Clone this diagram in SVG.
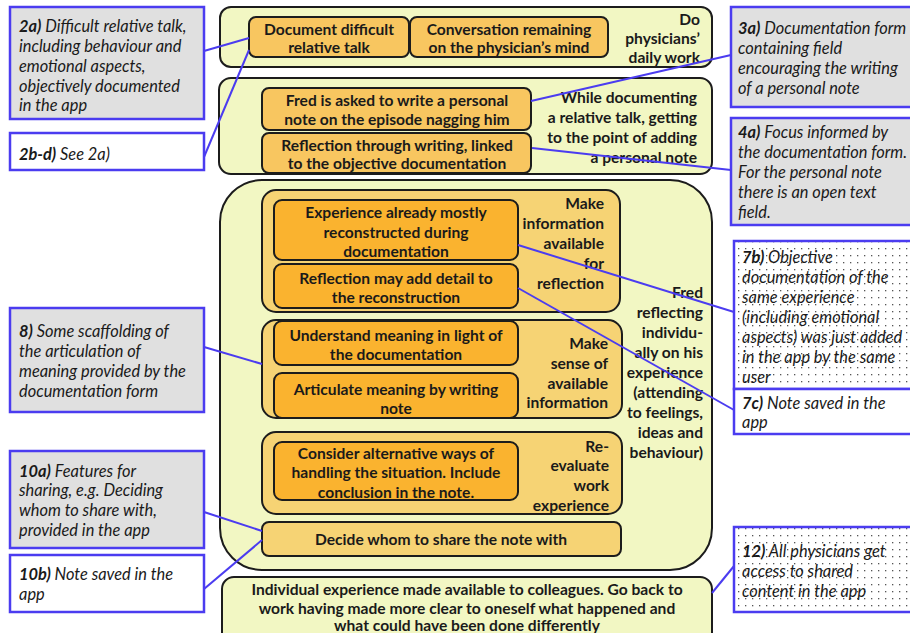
<svg xmlns="http://www.w3.org/2000/svg" width="910" height="633" viewBox="0 0 910 633">
<defs>
<pattern id="dots" width="7" height="7" patternUnits="userSpaceOnUse">
<rect width="7" height="7" fill="#ffffff"/>
<rect x="3" y="3" width="1.3" height="1.3" fill="#555555"/>
</pattern>
<style>
.cont{fill:#f2f7c3;stroke:#1c1c1c;stroke-width:2}
.sub{fill:#f6d374;stroke:#1c1c1c;stroke-width:2}
.box1{fill:#f8c660;stroke:#1c1c1c;stroke-width:2}
.box2{fill:#fab32f;stroke:#1c1c1c;stroke-width:2}
.ann{fill:#e0e0e0;stroke:#4b3cf0;stroke-width:2.5}
.annw{fill:#ffffff;stroke:#4b3cf0;stroke-width:2.5}
.annd{fill:url(#dots);stroke:#4b3cf0;stroke-width:2.5}
.t{font-family:Lato,"Liberation Sans",sans-serif;font-weight:bold;font-size:15.6px;fill:#1a1a1a}
.c{text-anchor:middle}
.r{text-anchor:end}
.i{font-family:Lato,"Liberation Sans",sans-serif;font-style:italic;font-size:16.4px;fill:#1a1a1a}
.b{font-weight:bold}
#connectors line{stroke:#4b3cf0;stroke-width:2}
</style>
</defs>
<rect width="910" height="633" fill="#ffffff"/>

<g id="containers">
<g id="daily-work">
<rect class="cont" x="220" y="7" width="492" height="60" rx="11"/>
<text class="t r" x="700" y="25">Do</text>
<text class="t r" x="700" y="44">physicians’</text>
<text class="t r" x="700" y="63">daily work</text>
</g>
<g id="while-documenting">
<rect class="cont" x="219" y="78" width="493" height="96" rx="12"/>
<text class="t r" x="697" y="103">While documenting</text>
<text class="t r" x="697" y="123">a relative talk, getting</text>
<text class="t r" x="697" y="143">to the point of adding</text>
<text class="t r" x="697" y="163">a personal note</text>
</g>
<g id="fred-reflecting">
<rect class="cont" x="220" y="180" width="492" height="390" rx="42"/>
<text class="t r" x="703" y="298">Fred</text>
<text class="t r" x="703" y="318">reflecting</text>
<text class="t r" x="703" y="338">individu-</text>
<text class="t r" x="703" y="358">ally on his</text>
<text class="t r" x="703" y="378">experience</text>
<text class="t r" x="703" y="398">(attending</text>
<text class="t r" x="703" y="418">to feelings,</text>
<text class="t r" x="703" y="438">ideas and</text>
<text class="t r" x="703" y="458">behaviour)</text>
</g>
<g id="make-info">
<rect class="sub" x="262" y="190" width="358" height="122" rx="14"/>
<text class="t r" x="604" y="209">Make</text>
<text class="t r" x="604" y="229">information</text>
<text class="t r" x="604" y="249">available</text>
<text class="t r" x="604" y="269">for</text>
<text class="t r" x="604" y="289">reflection</text>
</g>
<g id="make-sense">
<rect class="sub" x="262" y="320" width="360" height="98" rx="14"/>
<text class="t r" x="608" y="349">Make</text>
<text class="t r" x="608" y="369">sense of</text>
<text class="t r" x="608" y="389">available</text>
<text class="t r" x="608" y="408">information</text>
</g>
<g id="re-evaluate">
<rect class="sub" x="262" y="432" width="360" height="82" rx="14"/>
<text class="t r" x="609" y="452">Re-</text>
<text class="t r" x="609" y="471">evaluate</text>
<text class="t r" x="609" y="491">work</text>
<text class="t r" x="609" y="511">experience</text>
</g>
<g id="individual-experience">
<rect class="cont" x="222" y="577" width="490" height="70" rx="12"/>
<text class="t c" x="467" y="595">Individual experience made available to colleagues. Go back to</text>
<text class="t c" x="467" y="614">work having made more clear to oneself what happened and</text>
<text class="t c" x="467" y="631">what could have been done differently</text>
</g>
</g>

<g id="document-talk">
<rect class="box1" x="249" y="17" width="160" height="40" rx="7"/>
<text class="t c" x="329" y="35">Document difficult</text>
<text class="t c" x="329" y="53">relative talk</text>
</g>
<g id="conversation-remaining">
<rect class="box1" x="410" y="17" width="198" height="40" rx="7"/>
<text class="t c" x="509" y="35">Conversation remaining</text>
<text class="t c" x="509" y="53">on the physician’s mind</text>
</g>
<g id="fred-asked">
<rect class="box1" x="262" y="88" width="269" height="42" rx="7"/>
<text class="t c" x="397" y="106">Fred is asked to write a personal</text>
<text class="t c" x="397" y="125">note on the episode nagging him</text>
</g>
<g id="reflection-writing">
<rect class="box1" x="262" y="133" width="269" height="40" rx="7"/>
<text class="t c" x="397" y="151">Reflection through writing, linked</text>
<text class="t c" x="397" y="169">to the objective documentation</text>
</g>
<g id="experience-reconstructed">
<rect class="box2" x="274" y="200" width="244" height="60" rx="8"/>
<text class="t c" x="396" y="218">Experience already mostly</text>
<text class="t c" x="396" y="238">reconstructed during</text>
<text class="t c" x="396" y="257">documentation</text>
</g>
<g id="reflection-detail">
<rect class="box2" x="274" y="264" width="244" height="44" rx="8"/>
<text class="t c" x="396" y="284">Reflection may add detail to</text>
<text class="t c" x="396" y="303">the reconstruction</text>
</g>
<g id="understand-meaning">
<rect class="box2" x="274" y="321" width="244" height="44" rx="8"/>
<text class="t c" x="396" y="341">Understand meaning in light of</text>
<text class="t c" x="396" y="360">the documentation</text>
</g>
<g id="articulate-meaning">
<rect class="box2" x="274" y="373" width="244" height="45" rx="8"/>
<text class="t c" x="396" y="395">Articulate meaning by writing</text>
<text class="t c" x="396" y="414">note</text>
</g>
<g id="consider-alternatives">
<rect class="box2" x="274" y="442" width="244" height="58" rx="8"/>
<text class="t c" x="396" y="459">Consider alternative ways of</text>
<text class="t c" x="396" y="478">handling the situation. Include</text>
<text class="t c" x="396" y="498">conclusion in the note.</text>
</g>
<g id="decide-share">
<rect class="sub" x="262" y="522" width="359" height="34" rx="7"/>
<text class="t c" x="441" y="545">Decide whom to share the note with</text>
</g>

<g id="ann-2a">
<rect class="ann" x="10" y="7" width="194" height="112"/>
<text class="i"><tspan x="19" y="32"><tspan class="b">2a)</tspan> Difficult relative talk,</tspan><tspan x="19" y="52">including behaviour and</tspan><tspan x="19" y="72">emotional aspects,</tspan><tspan x="19" y="92">objectively documented</tspan><tspan x="19" y="111">in the app</tspan></text>
</g>
<g id="ann-2bd">
<rect class="annw" x="10" y="133" width="194" height="37"/>
<text class="i" x="19" y="160"><tspan class="b">2b-d)</tspan> See 2a)</text>
</g>
<g id="ann-8">
<rect class="ann" x="10" y="308" width="194" height="104"/>
<text class="i"><tspan x="19" y="337"><tspan class="b">8)</tspan> Some scaffolding of</tspan><tspan x="19" y="357">the articulation of</tspan><tspan x="19" y="377">meaning provided by the</tspan><tspan x="19" y="397">documentation form</tspan></text>
</g>
<g id="ann-10a">
<rect class="ann" x="10" y="451" width="194" height="97"/>
<text class="i"><tspan x="19" y="477"><tspan class="b">10a)</tspan> Features for</tspan><tspan x="19" y="496">sharing, e.g. Deciding</tspan><tspan x="19" y="516">whom to share with,</tspan><tspan x="19" y="536">provided in the app</tspan></text>
</g>
<g id="ann-10b">
<rect class="annw" x="10" y="555" width="194" height="57"/>
<text class="i"><tspan x="19" y="580"><tspan class="b">10b)</tspan> Note saved in the</tspan><tspan x="19" y="600">app</tspan></text>
</g>
<g id="ann-3a">
<rect class="ann" x="731" y="7" width="185" height="100"/>
<text class="i"><tspan x="738" y="34"><tspan class="b">3a)</tspan> Documentation form</tspan><tspan x="738" y="54">containing field</tspan><tspan x="738" y="74">encouraging the writing</tspan><tspan x="738" y="94">of a personal note</tspan></text>
</g>
<g id="ann-4a">
<rect class="ann" x="731" y="118" width="185" height="107"/>
<text class="i"><tspan x="738" y="138"><tspan class="b">4a)</tspan> Focus informed by</tspan><tspan x="738" y="158">the documentation form.</tspan><tspan x="738" y="178">For the personal note</tspan><tspan x="738" y="198">there is an open text</tspan><tspan x="738" y="218">field.</tspan></text>
</g>
<g id="ann-7b">
<rect class="annd" x="734" y="241" width="182" height="148"/>
<text class="i"><tspan x="742" y="263"><tspan class="b">7b)</tspan> Objective</tspan><tspan x="742" y="283">documentation of the</tspan><tspan x="742" y="303">same experience</tspan><tspan x="742" y="323">(including emotional</tspan><tspan x="742" y="343">aspects) was just added</tspan><tspan x="742" y="363">in the app by the same</tspan><tspan x="742" y="383">user</tspan></text>
</g>
<g id="ann-7c">
<rect class="annw" x="734" y="389" width="182" height="45"/>
<text class="i"><tspan x="742" y="409"><tspan class="b">7c)</tspan> Note saved in the</tspan><tspan x="742" y="428">app</tspan></text>
</g>
<g id="ann-12">
<rect class="annd" x="734" y="527" width="182" height="85"/>
<text class="i"><tspan x="742" y="557"><tspan class="b">12)</tspan> All physicians get</tspan><tspan x="742" y="577">access to shared</tspan><tspan x="742" y="597">content in the app</tspan></text>
</g>

<g id="connectors">
<line x1="204" y1="51" x2="249" y2="38"/>
<line x1="204" y1="157" x2="249" y2="50"/>
<line x1="531" y1="101" x2="731" y2="55"/>
<line x1="532" y1="148" x2="731" y2="170"/>
<line x1="518" y1="245" x2="734" y2="312"/>
<line x1="518" y1="288" x2="734" y2="410"/>
<line x1="204" y1="347" x2="262" y2="364"/>
<line x1="204" y1="512" x2="262" y2="531"/>
<line x1="204" y1="589" x2="262" y2="540"/>
<line x1="712" y1="593" x2="734" y2="566"/>
</g>
</svg>
